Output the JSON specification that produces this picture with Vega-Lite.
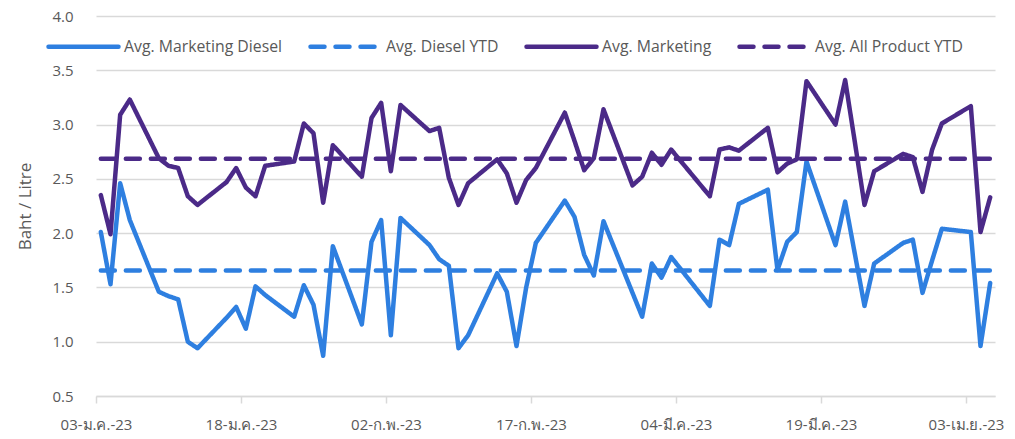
{
  "$schema": "https://vega.github.io/schema/vega-lite/v6.json",
  "autosize": {"type": "none"},
  "padding": {"left": 96, "top": 16, "right": 20, "bottom": 43},
  "width": 899,
  "height": 380,
  "background": "white",
  "config": {
    "view": {"stroke": null},
    "font": "Open Sans",
    "axis": {"labelFont": "Open Sans", "titleFont": "Open Sans", "labelColor": "#595959", "titleColor": "#595959", "labelFontSize": 15, "titleFontSize": 17, "titleFontWeight": "normal"},
    "legend": {"labelFont": "Open Sans", "labelColor": "#595959", "labelFontSize": 15.8, "labelLimit": 400}
  },
  "data": {
    "values": [
      {"date": "2023-01-03T12:00:00Z", "mkt": 2.35, "mktDiesel": 2.01, "dieselYTD": 1.655, "allYTD": 2.685},
      {"date": "2023-01-04T12:00:00Z", "mkt": 1.99, "mktDiesel": 1.53, "dieselYTD": 1.655, "allYTD": 2.685},
      {"date": "2023-01-05T12:00:00Z", "mkt": 3.09, "mktDiesel": 2.46, "dieselYTD": 1.655, "allYTD": 2.685},
      {"date": "2023-01-06T12:00:00Z", "mkt": 3.23, "mktDiesel": 2.12, "dieselYTD": 1.655, "allYTD": 2.685},
      {"date": "2023-01-09T12:00:00Z", "mkt": 2.69, "mktDiesel": 1.46, "dieselYTD": 1.655, "allYTD": 2.685},
      {"date": "2023-01-10T12:00:00Z", "mkt": 2.62, "mktDiesel": 1.42, "dieselYTD": 1.655, "allYTD": 2.685},
      {"date": "2023-01-11T12:00:00Z", "mkt": 2.60, "mktDiesel": 1.39, "dieselYTD": 1.655, "allYTD": 2.685},
      {"date": "2023-01-12T12:00:00Z", "mkt": 2.34, "mktDiesel": 1.00, "dieselYTD": 1.655, "allYTD": 2.685},
      {"date": "2023-01-13T12:00:00Z", "mkt": 2.26, "mktDiesel": 0.94, "dieselYTD": 1.655, "allYTD": 2.685},
      {"date": "2023-01-16T12:00:00Z", "mkt": 2.47, "mktDiesel": 1.22, "dieselYTD": 1.655, "allYTD": 2.685},
      {"date": "2023-01-17T12:00:00Z", "mkt": 2.60, "mktDiesel": 1.32, "dieselYTD": 1.655, "allYTD": 2.685},
      {"date": "2023-01-18T12:00:00Z", "mkt": 2.42, "mktDiesel": 1.12, "dieselYTD": 1.655, "allYTD": 2.685},
      {"date": "2023-01-19T12:00:00Z", "mkt": 2.34, "mktDiesel": 1.51, "dieselYTD": 1.655, "allYTD": 2.685},
      {"date": "2023-01-20T12:00:00Z", "mkt": 2.62, "mktDiesel": 1.43, "dieselYTD": 1.655, "allYTD": 2.685},
      {"date": "2023-01-23T12:00:00Z", "mkt": 2.66, "mktDiesel": 1.23, "dieselYTD": 1.655, "allYTD": 2.685},
      {"date": "2023-01-24T12:00:00Z", "mkt": 3.01, "mktDiesel": 1.52, "dieselYTD": 1.655, "allYTD": 2.685},
      {"date": "2023-01-25T12:00:00Z", "mkt": 2.92, "mktDiesel": 1.34, "dieselYTD": 1.655, "allYTD": 2.685},
      {"date": "2023-01-26T12:00:00Z", "mkt": 2.28, "mktDiesel": 0.87, "dieselYTD": 1.655, "allYTD": 2.685},
      {"date": "2023-01-27T12:00:00Z", "mkt": 2.81, "mktDiesel": 1.88, "dieselYTD": 1.655, "allYTD": 2.685},
      {"date": "2023-01-30T12:00:00Z", "mkt": 2.52, "mktDiesel": 1.16, "dieselYTD": 1.655, "allYTD": 2.685},
      {"date": "2023-01-31T12:00:00Z", "mkt": 3.06, "mktDiesel": 1.92, "dieselYTD": 1.655, "allYTD": 2.685},
      {"date": "2023-02-01T12:00:00Z", "mkt": 3.20, "mktDiesel": 2.12, "dieselYTD": 1.655, "allYTD": 2.685},
      {"date": "2023-02-02T12:00:00Z", "mkt": 2.57, "mktDiesel": 1.06, "dieselYTD": 1.655, "allYTD": 2.685},
      {"date": "2023-02-03T12:00:00Z", "mkt": 3.18, "mktDiesel": 2.14, "dieselYTD": 1.655, "allYTD": 2.685},
      {"date": "2023-02-06T12:00:00Z", "mkt": 2.94, "mktDiesel": 1.89, "dieselYTD": 1.655, "allYTD": 2.685},
      {"date": "2023-02-07T12:00:00Z", "mkt": 2.97, "mktDiesel": 1.76, "dieselYTD": 1.655, "allYTD": 2.685},
      {"date": "2023-02-08T12:00:00Z", "mkt": 2.51, "mktDiesel": 1.70, "dieselYTD": 1.655, "allYTD": 2.685},
      {"date": "2023-02-09T12:00:00Z", "mkt": 2.26, "mktDiesel": 0.94, "dieselYTD": 1.655, "allYTD": 2.685},
      {"date": "2023-02-10T12:00:00Z", "mkt": 2.46, "mktDiesel": 1.06, "dieselYTD": 1.655, "allYTD": 2.685},
      {"date": "2023-02-13T12:00:00Z", "mkt": 2.68, "mktDiesel": 1.63, "dieselYTD": 1.655, "allYTD": 2.685},
      {"date": "2023-02-14T12:00:00Z", "mkt": 2.55, "mktDiesel": 1.46, "dieselYTD": 1.655, "allYTD": 2.685},
      {"date": "2023-02-15T12:00:00Z", "mkt": 2.28, "mktDiesel": 0.96, "dieselYTD": 1.655, "allYTD": 2.685},
      {"date": "2023-02-16T12:00:00Z", "mkt": 2.49, "mktDiesel": 1.50, "dieselYTD": 1.655, "allYTD": 2.685},
      {"date": "2023-02-17T12:00:00Z", "mkt": 2.60, "mktDiesel": 1.91, "dieselYTD": 1.655, "allYTD": 2.685},
      {"date": "2023-02-20T12:00:00Z", "mkt": 3.11, "mktDiesel": 2.30, "dieselYTD": 1.655, "allYTD": 2.685},
      {"date": "2023-02-21T12:00:00Z", "mkt": 2.85, "mktDiesel": 2.15, "dieselYTD": 1.655, "allYTD": 2.685},
      {"date": "2023-02-22T12:00:00Z", "mkt": 2.58, "mktDiesel": 1.80, "dieselYTD": 1.655, "allYTD": 2.685},
      {"date": "2023-02-23T12:00:00Z", "mkt": 2.69, "mktDiesel": 1.61, "dieselYTD": 1.655, "allYTD": 2.685},
      {"date": "2023-02-24T12:00:00Z", "mkt": 3.14, "mktDiesel": 2.11, "dieselYTD": 1.655, "allYTD": 2.685},
      {"date": "2023-02-27T12:00:00Z", "mkt": 2.44, "mktDiesel": 1.45, "dieselYTD": 1.655, "allYTD": 2.685},
      {"date": "2023-02-28T12:00:00Z", "mkt": 2.52, "mktDiesel": 1.23, "dieselYTD": 1.655, "allYTD": 2.685},
      {"date": "2023-03-01T12:00:00Z", "mkt": 2.74, "mktDiesel": 1.72, "dieselYTD": 1.655, "allYTD": 2.685},
      {"date": "2023-03-02T12:00:00Z", "mkt": 2.63, "mktDiesel": 1.59, "dieselYTD": 1.655, "allYTD": 2.685},
      {"date": "2023-03-03T12:00:00Z", "mkt": 2.77, "mktDiesel": 1.78, "dieselYTD": 1.655, "allYTD": 2.685},
      {"date": "2023-03-07T12:00:00Z", "mkt": 2.34, "mktDiesel": 1.33, "dieselYTD": 1.655, "allYTD": 2.685},
      {"date": "2023-03-08T12:00:00Z", "mkt": 2.77, "mktDiesel": 1.94, "dieselYTD": 1.655, "allYTD": 2.685},
      {"date": "2023-03-09T12:00:00Z", "mkt": 2.79, "mktDiesel": 1.89, "dieselYTD": 1.655, "allYTD": 2.685},
      {"date": "2023-03-10T12:00:00Z", "mkt": 2.76, "mktDiesel": 2.27, "dieselYTD": 1.655, "allYTD": 2.685},
      {"date": "2023-03-13T12:00:00Z", "mkt": 2.97, "mktDiesel": 2.40, "dieselYTD": 1.655, "allYTD": 2.685},
      {"date": "2023-03-14T12:00:00Z", "mkt": 2.56, "mktDiesel": 1.66, "dieselYTD": 1.655, "allYTD": 2.685},
      {"date": "2023-03-15T12:00:00Z", "mkt": 2.64, "mktDiesel": 1.92, "dieselYTD": 1.655, "allYTD": 2.685},
      {"date": "2023-03-16T12:00:00Z", "mkt": 2.68, "mktDiesel": 2.01, "dieselYTD": 1.655, "allYTD": 2.685},
      {"date": "2023-03-17T12:00:00Z", "mkt": 3.40, "mktDiesel": 2.66, "dieselYTD": 1.655, "allYTD": 2.685},
      {"date": "2023-03-20T12:00:00Z", "mkt": 3.00, "mktDiesel": 1.89, "dieselYTD": 1.655, "allYTD": 2.685},
      {"date": "2023-03-21T12:00:00Z", "mkt": 3.41, "mktDiesel": 2.29, "dieselYTD": 1.655, "allYTD": 2.685},
      {"date": "2023-03-22T12:00:00Z", "mkt": 2.84, "mktDiesel": 1.81, "dieselYTD": 1.655, "allYTD": 2.685},
      {"date": "2023-03-23T12:00:00Z", "mkt": 2.26, "mktDiesel": 1.33, "dieselYTD": 1.655, "allYTD": 2.685},
      {"date": "2023-03-24T12:00:00Z", "mkt": 2.57, "mktDiesel": 1.72, "dieselYTD": 1.655, "allYTD": 2.685},
      {"date": "2023-03-27T12:00:00Z", "mkt": 2.73, "mktDiesel": 1.91, "dieselYTD": 1.655, "allYTD": 2.685},
      {"date": "2023-03-28T12:00:00Z", "mkt": 2.70, "mktDiesel": 1.94, "dieselYTD": 1.655, "allYTD": 2.685},
      {"date": "2023-03-29T12:00:00Z", "mkt": 2.38, "mktDiesel": 1.45, "dieselYTD": 1.655, "allYTD": 2.685},
      {"date": "2023-03-30T12:00:00Z", "mkt": 2.77, "mktDiesel": 1.75, "dieselYTD": 1.655, "allYTD": 2.685},
      {"date": "2023-03-31T12:00:00Z", "mkt": 3.01, "mktDiesel": 2.04, "dieselYTD": 1.655, "allYTD": 2.685},
      {"date": "2023-04-03T12:00:00Z", "mkt": 3.17, "mktDiesel": 2.01, "dieselYTD": 1.655, "allYTD": 2.685},
      {"date": "2023-04-04T12:00:00Z", "mkt": 2.01, "mktDiesel": 0.96, "dieselYTD": 1.655, "allYTD": 2.685},
      {"date": "2023-04-05T12:00:00Z", "mkt": 2.33, "mktDiesel": 1.54, "dieselYTD": 1.655, "allYTD": 2.685}
    ]
  },
  "transform": [
    {"fold": ["mktDiesel", "dieselYTD", "mkt", "allYTD"], "as": ["series", "value"]}
  ],
  "mark": {"type": "line", "strokeWidth": 4.5, "strokeCap": "round", "strokeJoin": "round"},
  "encoding": {
    "x": {
      "field": "date",
      "type": "temporal",
      "scale": {"type": "utc", "domain": [{"year": 2023, "month": 1, "date": 3, "utc": true}, {"year": 2023, "month": 4, "date": 6, "utc": true}]},
      "axis": {
        "title": null,
        "values": [
          {"year": 2023, "month": 1, "date": 3, "utc": true},
          {"year": 2023, "month": 1, "date": 18, "utc": true},
          {"year": 2023, "month": 2, "date": 2, "utc": true},
          {"year": 2023, "month": 2, "date": 17, "utc": true},
          {"year": 2023, "month": 3, "date": 4, "utc": true},
          {"year": 2023, "month": 3, "date": 19, "utc": true},
          {"year": 2023, "month": 4, "date": 3, "utc": true}
        ],
        "labelExpr": "utcFormat(datum.value, '%d') + '-' + ['ม.ค.', 'ก.พ.', 'มี.ค.', 'เม.ย.'][utcmonth(datum.value)] + '-' + utcFormat(datum.value, '%y')",
        "grid": false,
        "domain": true,
        "domainColor": "#d9d9d9",
        "domainWidth": 1.5,
        "ticks": true,
        "tickColor": "#d9d9d9",
        "tickWidth": 1.5,
        "tickSize": 7,
        "labelPadding": 14,
        "labelFlush": false,
        "labelOverlap": false
      }
    },
    "y": {
      "field": "value",
      "type": "quantitative",
      "scale": {"domain": [0.5, 4.0], "nice": false, "zero": false},
      "axis": {
        "title": "Baht / Litre",
        "values": [0.5, 1.0, 1.5, 2.0, 2.5, 3.0, 3.5, 4.0],
        "format": ".1f",
        "domain": false,
        "ticks": false,
        "grid": true,
        "gridColor": "#d9d9d9",
        "gridWidth": 1.5,
        "labelPadding": 23,
        "titlePadding": 17
      }
    },
    "color": {
      "field": "series",
      "type": "nominal",
      "scale": {"domain": ["mktDiesel", "dieselYTD", "mkt", "allYTD"], "range": ["#2E7FE0", "#2E7FE0", "#4B2A88", "#4B2A88"]},
      "legend": {
        "title": null,
        "orient": "none",
        "direction": "horizontal",
        "legendX": -50,
        "legendY": -7,
        "symbolType": "stroke",
        "symbolSize": 4900,
        "symbolStrokeWidth": 4.5,
        "labelOffset": 3,
        "columnPadding": 18,
        "labelExpr": "{'mktDiesel': 'Avg. Marketing Diesel', 'dieselYTD': 'Avg. Diesel YTD', 'mkt': 'Avg. Marketing', 'allYTD': 'Avg. All Product YTD'}[datum.label]",
        "encode": {"symbols": {"update": {"strokeCap": {"value": "round"}}}}
      }
    },
    "strokeDash": {
      "field": "series",
      "type": "nominal",
      "scale": {"domain": ["mktDiesel", "dieselYTD", "mkt", "allYTD"], "range": [[1, 0], [14, 11], [1, 0], [14, 11]]},
      "legend": {
        "title": null,
        "orient": "none",
        "direction": "horizontal",
        "legendX": -50,
        "legendY": -7,
        "symbolType": "stroke",
        "symbolSize": 4900,
        "symbolStrokeWidth": 4.5,
        "labelOffset": 3,
        "columnPadding": 18,
        "labelExpr": "{'mktDiesel': 'Avg. Marketing Diesel', 'dieselYTD': 'Avg. Diesel YTD', 'mkt': 'Avg. Marketing', 'allYTD': 'Avg. All Product YTD'}[datum.label]",
        "encode": {"symbols": {"update": {"strokeCap": {"value": "round"}}}}
      }
    }
  }
}
